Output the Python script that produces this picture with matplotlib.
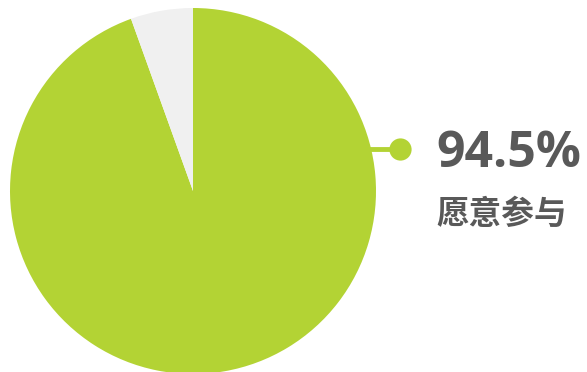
import matplotlib
matplotlib.use("Agg")
import matplotlib.pyplot as plt

# share of respondents
labels = ["愿意参与", "其他"]
values = [94.5, 5.5]
colors = ["#b3d334", "#f0f0f0"]

W, H = 587, 372
fig = plt.figure(figsize=(W / 100, H / 100), dpi=100)
ax = fig.add_axes([0, 0, 1, 1])

cx, cy, r = 193, H - 191, 183
ax.pie(values, colors=colors, startangle=90, counterclock=False,
       center=(cx, cy), radius=r, frame=True,
       wedgeprops=dict(linewidth=0))

# callout line + dot
ly = H - 149
ax.plot([365, 400], [ly, ly], color=colors[0], lw=3.5, solid_capstyle="butt")
ax.plot([400], [ly], "o", color=colors[0], ms=16, mec="none")

ax.text(436, H - 167, "%.1f%%" % values[0], fontsize=36, fontweight="bold",
        color="#595959", family=["Open Sans", "DejaVu Sans"], va="baseline")
ax.text(436, H - 231, labels[0], fontsize=23.5, fontweight="bold",
        color="#595959", family=["Noto Sans CJK SC", "DejaVu Sans"], va="bottom")

ax.set_xlim(0, W)
ax.set_ylim(0, H)
ax.set_aspect("equal")
ax.axis("off")

fig.savefig("out.png", dpi=100)
